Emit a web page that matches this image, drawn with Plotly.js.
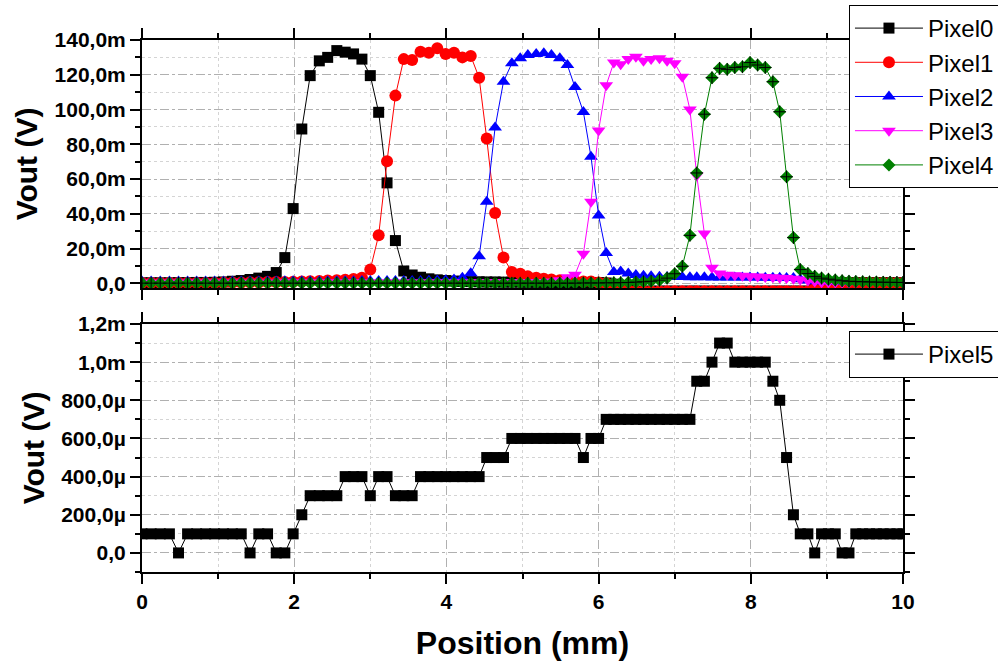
<!DOCTYPE html>
<html>
<head>
<meta charset="utf-8">
<script src="https://cdn.plot.ly/plotly-3.0.1.min.js"></script>
<style>html,body{margin:0;padding:0;background:#fff;}#chart{width:998px;height:661px;}</style>
</head>
<body>
<div id="chart"></div>
<script>
// Shared scan positions (mm)
const positionMm = [0,0.12,0.24,0.36,0.48,0.599,0.718,0.836,0.954,1.071,
  1.188,1.304,1.42,1.535,1.65,1.764,1.877,1.986,2.1,2.21,
  2.33,2.44,2.56,2.67,2.78,2.89,3.0,3.11,3.22,3.33,
  3.44,3.55,3.66,3.77,3.88,3.99,4.1,4.21,4.32,4.43,
  4.53,4.64,4.75,4.86,4.97,5.07,5.18,5.28,5.38,5.49,
  5.59,5.69,5.8,5.9,6.0,6.1,6.2,6.29,6.39,6.49,
  6.59,6.69,6.8,6.9,7.0,7.1,7.2,7.29,7.39,7.49,
  7.59,7.69,7.79,7.89,7.99,8.09,8.19,8.29,8.38,8.47,
  8.56,8.65,8.75,8.84,8.93,9.02,9.11,9.2,9.29,9.38,
  9.47,9.56,9.65,9.74,9.83,9.92,10.0];

// Vout in mV (top panel)
const pixel0 = [0.3,0.3,0.3,0.3,0.4,0.4,0.5,0.5,0.6,0.8,
  1.2,1.6,2.2,3.0,4.0,6.2,14.8,43,88.8,119.5,
  128,130,133.9,133,132,129,119.5,98.4,57.8,24.6,
  7.1,4.8,3.5,2.6,2.0,1.6,1.3,1.1,1.0,0.9,
  0.8,0.8,0.7,0.7,0.7,0.6,0.6,0.6,0.5,0.5,
  0.5,0.5,0.5,0.5,0.4,0.2,-0.5,-1.5,-3.0,-4.5,
  -4.5,-4.5,-4.5,-4.5,-4.5,-4.5,-4.5,-4.5,-4.5,-4.5,
  -4.5,-4.5,-4.5,-4.5,-4.5,-4.5,-4.5,-4.5,-4.5,-4.5,
  -4.5,-4.5,-4.5,-3.0,-1.5,-0.5,0.0,0.2,0.3,0.3,
  0.3,0.3,0.3,0.3,0.3,0.3,0.3];
const pixel1 = [0.3,0.3,0.3,0.3,0.3,0.3,0.4,0.4,0.4,0.5,
  0.5,0.5,0.6,0.6,0.7,0.7,0.8,0.9,1.0,1.2,
  1.4,1.6,1.8,2.1,2.5,3.2,8.0,27.7,70.3,108,
  129,128.5,133.3,132.7,135.2,131.9,132.7,130,130.8,118.3,
  83.3,40.5,14.8,6.5,5.5,4.0,3.2,2.6,2.2,1.8,
  1.5,1.3,1.1,1.0,0.5,0.0,-1.0,-2.5,-4.0,-4.5,
  -4.5,-4.5,-4.5,-4.5,-4.5,-4.5,-4.5,-4.5,-4.5,-4.5,
  -4.5,-4.5,-4.5,-4.5,-4.5,-4.5,-4.5,-4.5,-4.5,-4.5,
  -4.5,-4.5,-4.5,-3.0,-1.5,-0.5,0.0,0.2,0.3,0.3,
  0.3,0.3,0.3,0.3,0.3,0.3,0.3];
const pixel2 = [1.0,1.0,1.0,1.0,1.0,1.0,1.0,1.0,1.1,1.1,
  1.1,1.1,1.1,1.1,1.1,1.1,1.2,1.2,1.2,1.2,
  1.2,1.2,1.2,1.2,1.2,1.3,1.3,1.3,1.3,1.3,
  1.3,1.4,1.4,1.5,1.6,1.8,2.2,3.2,5.8,15.6,
  46.9,89.7,116,126.6,129.5,131.4,132,132.4,131.4,129.5,
  125.6,113,98.6,72.8,39,17.4,6.5,6.8,5.6,4.8,
  4.3,4.0,3.8,3.7,3.6,3.6,3.5,3.5,3.5,3.4,
  3.4,3.4,3.3,3.3,3.3,3.3,3.2,3.2,3.2,3.1,
  3.0,2.4,1.6,1.2,1.0,1.0,0.9,0.9,0.9,0.9,
  0.8,0.8,0.8,0.8,0.8,0.8,0.8];
const pixel3 = [0.4,0.4,0.4,0.4,0.4,0.4,0.4,0.4,0.4,0.4,
  0.4,0.4,0.4,0.4,0.4,0.4,0.5,0.5,0.5,0.5,
  0.5,0.5,0.5,0.5,0.5,0.5,0.5,0.5,0.5,0.5,
  0.5,0.5,0.5,0.5,0.5,0.5,0.5,0.5,0.5,0.6,
  0.6,0.6,0.6,0.6,0.6,0.7,0.7,0.8,1.0,1.8,
  3.5,5.0,17,47,88,114,127,126,129,130.4,
  128,129,129.5,128,126.6,118.9,100,62,28.6,9.0,
  5.6,5.0,4.6,4.3,4.1,3.9,3.7,3.5,3.2,3.0,
  2.7,2.2,1.6,1.0,0.6,0.5,0.5,0.5,0.5,0.5,
  0.5,0.5,0.5,0.5,0.5,0.5,0.5];
const pixel4 = [0.1,0.1,0.1,0.1,0.1,0.1,0.1,0.1,0.1,0.1,
  0.1,0.1,0.1,0.1,0.1,0.1,0.1,0.1,0.1,0.1,
  0.1,0.1,0.1,0.1,0.1,0.1,0.1,0.1,0.1,0.1,
  0.1,0.1,0.1,0.1,0.1,0.1,0.1,0.1,0.1,0.1,
  0.1,0.1,0.1,0.1,0.1,0.1,0.1,0.1,0.1,0.1,
  0.1,0.1,0.2,0.2,0.2,0.3,0.3,0.4,0.5,0.7,
  0.9,1.2,1.8,3.0,5.5,9.8,27.6,63.5,97.3,118.3,
  123.7,123.1,124.2,124.6,127,125.6,124.2,116,98.7,61.3,
  26.3,7.9,5.6,4.0,3.0,2.4,1.9,1.5,1.2,1.0,
  0.9,0.8,0.7,0.6,0.6,0.5,0.5];

// Vout in µV (bottom panel)
const pixel5 = [100,100,100,100,0,100,100,100,100,100,
  100,100,0,100,100,0,0,100,200,300,
  300,300,300,400,400,400,300,400,400,300,
  300,300,400,400,400,400,400,400,400,400,
  500,500,500,600,600,600,600,600,600,600,
  600,600,500,600,600,700,700,700,700,700,
  700,700,700,700,700,700,700,900,900,1000,
  1100,1100,1000,1000,1000,1000,1000,900,800,500,
  200,100,100,0,100,100,100,0,0,100,
  100,100,100,100,100,100,100];

// Tick labels
const xTickVals = [0,2,4,6,8,10];
const xTickText = ['0','2','4','6','8','10'];
const topTickVals = [0,20,40,60,80,100,120,140];
const topTickText = ['0,0','20,0m','40,0m','60,0m','80,0m','100,0m','120,0m','140,0m'];
const botTickVals = [0,200,400,600,800,1000,1200];
const botTickText = ['0,0','200,0µ','400,0µ','600,0µ','800,0µ','1,0m','1,2m'];

const FONT = 'Liberation Sans, Arial, sans-serif';

function series(name, y, color, symbol, size, xa, ya, legend) {
  return {
    type: 'scatter', mode: 'lines+markers', name: name,
    x: positionMm, y: y, xaxis: xa, yaxis: ya, legend: legend,
    line: {color: color, width: 1},
    marker: {color: color, symbol: symbol, size: size, line: {width: 0}},
    cliponaxis: true
  };
}

const traces = [
  series('Pixel0', pixel0, '#000000', 'square', 11, 'x', 'y', 'legend'),
  series('Pixel1', pixel1, '#ff0000', 'circle', 12, 'x', 'y', 'legend'),
  series('Pixel2', pixel2, '#0000ff', 'triangle-up', 12, 'x', 'y', 'legend'),
  series('Pixel3', pixel3, '#ff00ff', 'triangle-down', 12, 'x', 'y', 'legend'),
  series('Pixel4', pixel4, '#008000', 'diamond', 10, 'x', 'y', 'legend'),
  {type:'scatter', mode:'markers', x: positionMm, y: pixel4, xaxis:'x', yaxis:'y',
   showlegend:false, hoverinfo:'skip',
   marker:{symbol:'cross-thin', size:9, color:'#000000', line:{color:'#000000', width:1}}},
  series('Pixel5', pixel5, '#000000', 'square', 11, 'x2', 'y2', 'legend2')
];

const gridMajor = '#b0b0b0', gridMinor = '#d4d4d4';
function xAxis(extra) {
  return Object.assign({
    range: [0, 10], tickmode: 'array', tickvals: xTickVals, ticktext: xTickText,
    ticks: 'outside', ticklen: 10, tickwidth: 2, tickcolor: '#000',
    showline: true, linewidth: 2, linecolor: '#000', mirror: 'ticks',
    showgrid: true, gridcolor: gridMajor, gridwidth: 1, griddash: 'dash',
    zeroline: false,
    tickfont: {family: FONT, size: 21, weight: 'bold', color: '#000'},
    minor: {tickmode: 'linear', tick0: 0, dtick: 1, ticks: 'outside', ticklen: 5, tickwidth: 2, tickcolor: '#000',
            showgrid: true, gridcolor: gridMinor, gridwidth: 1, griddash: 'dot'}
  }, extra);
}
function yAxis(extra, minorDtick) {
  return Object.assign({
    tickmode: 'array', ticks: 'outside', ticklen: 10, tickwidth: 2, tickcolor: '#000',
    showline: true, linewidth: 2, linecolor: '#000', mirror: 'ticks',
    showgrid: true, gridcolor: gridMajor, gridwidth: 1, griddash: 'dashdot',
    zeroline: false,
    tickfont: {family: FONT, size: 21, weight: 'bold', color: '#000'},
    title: {text: 'Vout (V)', font: {family: FONT, size: 30, weight: 'bold', color: '#000'}, standoff: 8},
    minor: {tickmode: 'linear', tick0: 0, dtick: minorDtick, ticks: 'outside', ticklen: 5, tickwidth: 2, tickcolor: '#000',
            showgrid: true, gridcolor: gridMinor, gridwidth: 1, griddash: 'dot'}
  }, extra);
}

const layout = {
  width: 998, height: 661,
  paper_bgcolor: '#ffffff', plot_bgcolor: '#ffffff',
  margin: {l: 142, r: 95, t: 40, b: 89, autoexpand: false},
  font: {family: FONT, color: '#000'},
  xaxis: xAxis({anchor: 'y', domain: [0, 1], showticklabels: false}),
  yaxis: yAxis({anchor: 'x', domain: [0.5338, 1], range: [-2.7, 140], tickvals: topTickVals, ticktext: topTickText}, 10),
  xaxis2: xAxis({anchor: 'y2', domain: [0, 1],
    title: {text: 'Position (mm)', font: {family: FONT, size: 32, weight: 'bold', color: '#000'}, standoff: 20}}),
  yaxis2: yAxis({anchor: 'x2', domain: [0, 0.4662], range: [-100, 1200], tickvals: botTickVals, ticktext: botTickText}, 100),
  legend: {x: 0.929, y: 1.0658, xanchor: 'left', yanchor: 'top', bgcolor: '#ffffff',
    bordercolor: '#000', borderwidth: 1, font: {family: FONT, size: 24, color: '#000'}, itemwidth: 68,
    tracegroupgap: 0},
  legend2: {x: 0.929, y: 0.453, xanchor: 'left', yanchor: 'top', bgcolor: '#ffffff',
    bordercolor: '#000', borderwidth: 1, font: {family: FONT, size: 24, color: '#000'}, itemwidth: 68},
  showlegend: true
};

Plotly.newPlot('chart', traces, layout, {staticPlot: true, displayModeBar: false});
</script>
</body>
</html>
